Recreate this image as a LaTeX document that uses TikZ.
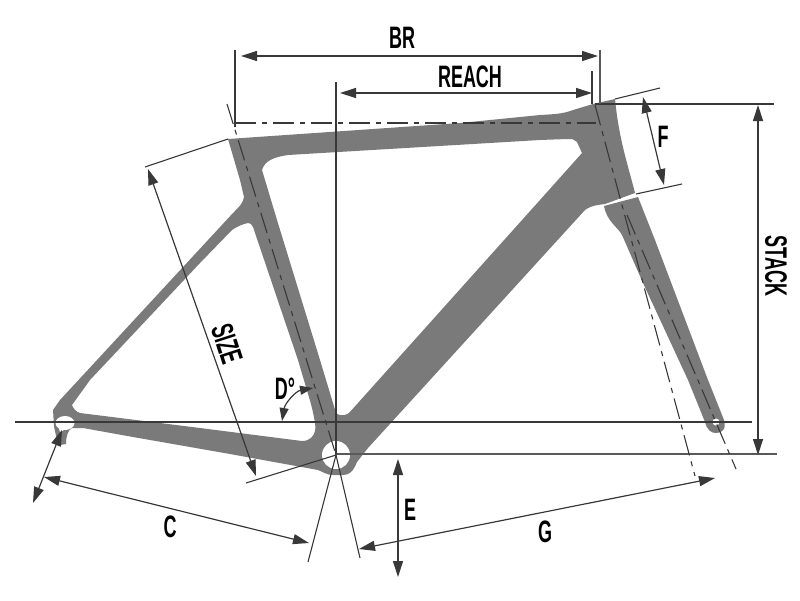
\documentclass[tikz,border=0pt]{standalone}
\usepackage{fontspec}
\setmainfont{Liberation Sans}
\usepackage{graphicx}
\usetikzlibrary{arrows.meta,backgrounds}
\newcommand{\framecolor}{black!52}
\newcommand{\linecolor}{black!78}
\newcommand{\dimtext}[1]{\scalebox{0.58}[1]{\bfseries #1}}
\tikzset{
  tube/.style={fill=\framecolor,draw=none,even odd rule},
  hole/.style={fill=white,draw=none},
  guide/.style={draw=\linecolor,line width=1.1pt},
  guidethick/.style={draw=black!65,line width=1.5pt},
  axis/.style={draw=\linecolor,line width=1.1pt,dash pattern=on 21pt off 6pt on 5pt off 6pt},
  dim/.style={draw=\linecolor,line width=1.2pt,{Triangle[length=16pt,width=10pt]}-{Triangle[length=16pt,width=10pt]}},
  dimlabel/.style={font=\fontsize{31}{31}\selectfont,text=black,inner sep=0pt}
}

\begin{document}
\begin{tikzpicture}[x=1pt,y=-1pt]
\useasboundingbox (0,0) rectangle (800,600);
%points
\coordinate (bb) at (336,455);
\coordinate (axleleft) at (15,422);
\coordinate (axleright) at (752,422);
\coordinate (bbright) at (777,454);
\coordinate (bbleft) at (336,454);
\coordinate (reachtop) at (336,82);
\coordinate (stackleft) at (595,104);
\coordinate (stackright) at (774,104);
\coordinate (brlefttop) at (235,50);
\coordinate (brleftbot) at (235,127);
\coordinate (brrighttop) at (600,50);
\coordinate (brrightbot) at (600,104);
\coordinate (reachrighttop) at (592,71);
\coordinate (reachrightbot) at (592,104);
\coordinate (toptubeleft) at (235,123);
\coordinate (toptuberight) at (596,123);
\coordinate (seattop) at (227,104);
\coordinate (steertop) at (595,105);
\coordinate (steerbot) at (695,476);
\coordinate (forktop) at (627,215);
\coordinate (forkbot) at (736,469);
\coordinate (seatleft) at (145,167);
\coordinate (seatright) at (228,139);
\coordinate (sizelow) at (246,483);
\coordinate (lowa) at (308,562);
\coordinate (lowb) at (360,558);
\coordinate (headlefta) at (615,99);
\coordinate (headleftb) at (660,88);
\coordinate (crowna) at (636,194);
\coordinate (crownb) at (682,184);
%frame
\begin{scope}[on background layer]
\fill[tube] (228,139) -- (460,123) -- (540,115) .. controls (560,114) and (565,113) .. (573,110)
  -- (593,104) -- (615,99) .. controls (619,140) and (628,165) .. (635,193) -- (605,204)
  .. controls (598,205) and (592,205) .. (585,210) -- (368,448) -- (357,462)
  .. controls (353,472) and (349,475) .. (343,475) -- (333,475) .. controls (327,475) and (323,472) .. (318,470)
  -- (230,454) -- (133,437) -- (83,428) -- (72,428) .. controls (68,430) and (66,436) .. (66,444)
  -- (60,445) .. controls (57,440) and (55,433) .. (54,426) -- (53,410) -- (60,400)
  -- (233,213) .. controls (240,206) and (243,203) .. (244,197) -- (240,180) -- cycle
  (72,405) -- (90,380) -- (200,263) -- (232,230) .. controls (238,226) and (243,224) .. (248,223)
  .. controls (250,223) and (252,224) .. (253,227) -- (298,360) -- (311,404)
  .. controls (315,420) and (316,428) .. (315,431) .. controls (314,436) and (310,441) .. (302,441)
  -- (200,428) -- (80,413) .. controls (76,412) and (73,408) .. (72,405) -- cycle
  (288,155) .. controls (275,157) and (265,160) .. (262,170) -- (277,220) -- (320,360) -- (336,413)
  .. controls (339,416) and (345,416) .. (349,413) -- (540,200) -- (582,153)
  -- (577,142) .. controls (575,139) and (572,139) .. (567,139) -- (540,140) -- cycle;
\fill[tube] (604,206) -- (638,197) -- (655,240) -- (708,380) -- (724,420)
  .. controls (727,430) and (721,433) .. (716,433) .. controls (711,433) and (707,430) .. (705,422)
  -- (688,380) -- (643,283) -- (622,235) .. controls (618,227) and (607,222) .. (604,206) -- cycle;
\fill[hole] (bb) circle (14pt);
\fill[hole] (65,423) ellipse (9.5pt and 7pt);
\fill[hole] (58,425) -- (60,432) -- (68,428) -- cycle;
\fill[hole] (716,422) circle (3.5pt);
\end{scope}
%guides
\draw[guide] (axleleft) -- (axleright);
\draw[guidethick] (bbleft) -- (bbright);
\draw[guide] (reachtop) -- (bb);
\draw[guide] (stackleft) -- (stackright);
\draw[guide] (brlefttop) -- (brleftbot);
\draw[guidethick] (brrighttop) -- (brrightbot);
\draw[guide] (reachrighttop) -- (reachrightbot);
\draw[guide] (seatleft) -- (seatright);
\draw[guide] (sizelow) -- (bb);
\draw[guide] (bb) -- (lowa);
\draw[guide] (bb) -- (lowb);
\draw[guide] (headlefta) -- (headleftb);
\draw[guide] (crowna) -- (crownb);
%axes
\draw[axis] (toptubeleft) -- (toptuberight);
\draw[axis] (seattop) -- (bb);
\draw[axis] (steertop) -- (steerbot);
\draw[axis] (forktop) -- (forkbot);
%arrows
\coordinate (brl) at (241,56);
\coordinate (brr) at (598,56);
\coordinate (reachl) at (340,93);
\coordinate (reachr) at (592,93);
\coordinate (ftop) at (643,97);
\coordinate (fbot) at (664,185);
\coordinate (stacktop) at (758,105);
\coordinate (stackbot) at (758,455);
\coordinate (sizetop) at (148,169);
\coordinate (sizebot) at (256,476);
\coordinate (da) at (313,388);
\coordinate (db) at (282,421);
\coordinate (etop) at (398,459);
\coordinate (ebot) at (398,577);
\coordinate (cl) at (44,477);
\coordinate (cr) at (309,543);
\coordinate (reara) at (62,430);
\coordinate (rearb) at (33,503);
\coordinate (gl) at (359,549);
\coordinate (gr) at (715,478);
\draw[dim] (brl) -- (brr);
\draw[dim] (reachl) -- (reachr);
\draw[dim] (ftop) -- (fbot);
\draw[dim] (stacktop) -- (stackbot);
\draw[dim] (sizetop) -- (sizebot);
\draw[dim] (etop) -- (ebot);
\draw[dim] (cl) -- (cr);
\draw[dim] (reara) -- (rearb);
\draw[dim] (gl) -- (gr);
\draw[dim,{Triangle[length=13pt,width=9pt]}-{Triangle[length=13pt,width=9pt]}] (da) .. controls (296,391) and (285,403) .. (db);
%labels
\node[dimlabel] (labelbr) at (402,38) {\dimtext{BR}};
\node[dimlabel] (labelreach) at (470,77) {\dimtext{REACH}};
\node[dimlabel] (labelf) at (663,137) {\dimtext{F}};
\node[dimlabel,rotate=-90] (labelstack) at (776,266) {\dimtext{STACK}};
\node[dimlabel,rotate=-72] (labelsize) at (227,344) {\dimtext{SIZE}};
\node[dimlabel] (labeld) at (285,389) {\dimtext{D°}};
\node[dimlabel] (labele) at (410,510) {\dimtext{E}};
\node[dimlabel] (labelc) at (170,527) {\dimtext{C}};
\node[dimlabel] (labelg) at (545,532) {\dimtext{G}};
\end{tikzpicture}
\end{document}
